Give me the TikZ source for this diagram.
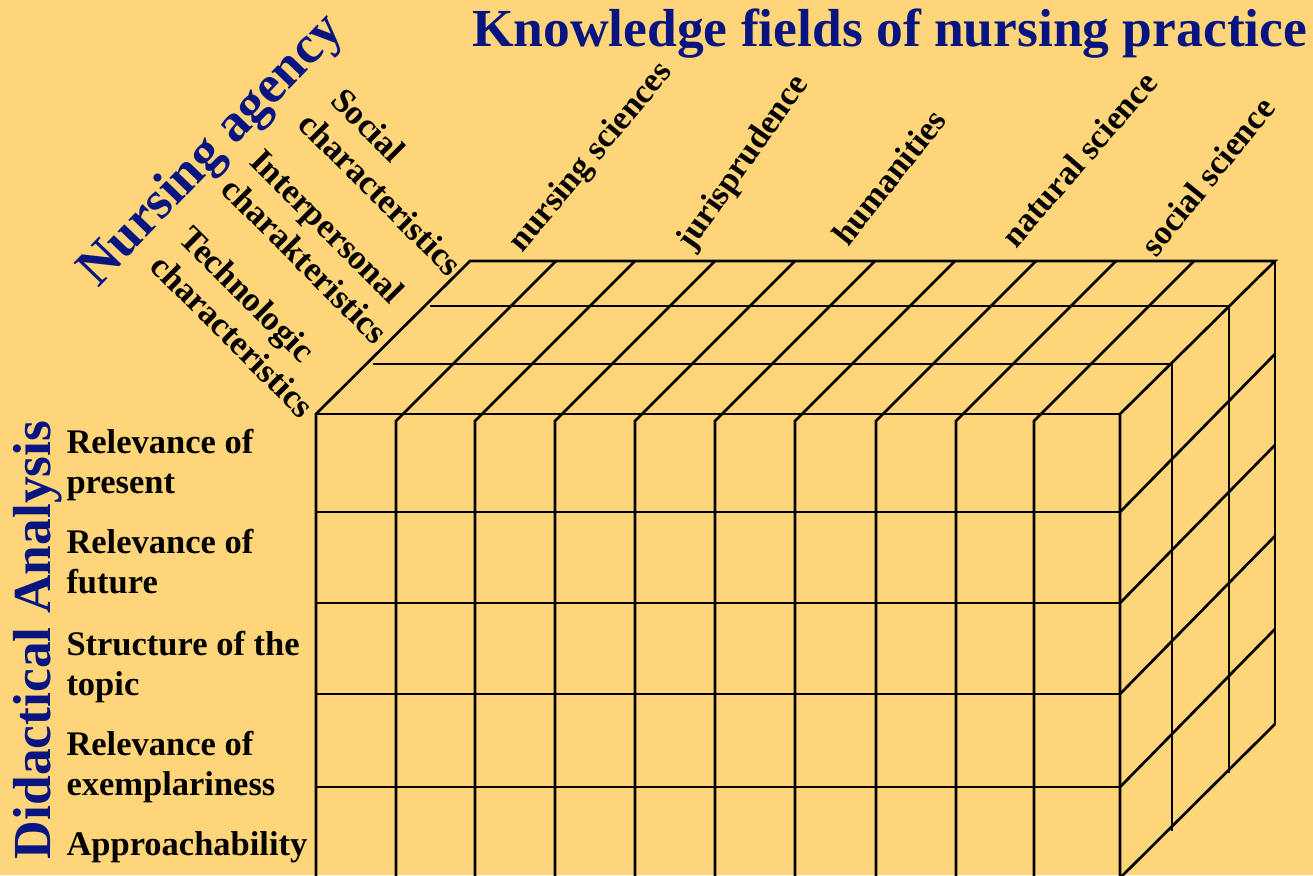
\documentclass[tikz,border=0pt]{standalone}
\usepackage{fontspec}
\setmainfont{Liberation Serif}
\definecolor{bg}{RGB}{255,213,122}
\definecolor{navy}{RGB}{8,20,128}
\newcommand\twoln[2]{\begin{tabular}[t]{@{}l@{}}#1\\#2\end{tabular}}
\begin{document}
\begin{tikzpicture}[x=1pt,y=-1pt,
  grid/.style={line width=2.7pt, draw=black},
  lab/.style={font=\fontsize{34.5}{40}\selectfont\bfseries, inner sep=0pt, outer sep=0pt, anchor=base west},
  fld/.style={font=\fontsize{34}{40}\selectfont\bfseries, inner sep=0pt, outer sep=0pt, anchor=base west},
  big/.style={font=\fontsize{53.5}{60}\selectfont\bfseries, text=navy, inner sep=0pt, outer sep=0pt, anchor=base west}]
\fill[bg] (0,0) rectangle (1313,875);
\useasboundingbox (0,0) rectangle (1313,875);
\begin{scope}
\clip (0,0) rectangle (1313,875);
% front face
\foreach \y in {512,603,694,787} \draw[grid] (316,\y) -- (1120,\y);
\draw[grid] (316,885) -- (316,414) -- (470,261) -- (1275,261) -- (1120,414) -- (1120,885);
\draw[grid] (316,414) -- (1120,414);
\foreach \x in {396,475,555,635,715,795,876,956,1034}
  \draw[grid] (\x+160,261) -- (\x,421) -- (\x,885);
% top face layers
\draw[grid] (430,306) -- (1229,306);
\draw[grid] (373,364) -- (1172,364);
% right face
\draw[grid] (1229,306) -- (1229,773);
\draw[grid] (1172,364) -- (1172,831);
\draw[grid] (1275,261) -- (1275,724);
\foreach \y in {512,603,694,787} \draw[grid] (1120,\y) -- (1275,\y-158);
\draw[grid] (1120,878) -- (1275,724);
\end{scope}
% titles
\node[big] (title) at (472,47) {Knowledge fields of nursing practice};
\node[big, rotate=90] (da) at (50,859) {Didactical Analysis};
\node[big, rotate=46] (na) at (98,288) {Nursing agency};
% row labels
\node[lab] (r1) at (66.5,453) {\twoln{Relevance of}{present}};
\node[lab] (r2) at (66.5,553) {\twoln{Relevance of}{future}};
\node[lab] (r3) at (66.5,655) {\twoln{Structure of the}{topic}};
\node[lab] (r4) at (66.5,755) {\twoln{Relevance of}{exemplariness}};
\node[lab] (r5) at (66.5,855) {Approachability};
% agency labels
\node[lab, rotate=-45] (soc) at (325,98) {\twoln{\hspace*{6pt}Social}{characteristics}};
\node[lab, rotate=-45] (inter) at (248,163) {\twoln{Interpersonal}{charakteristics}};
\node[lab, rotate=-45] (tech) at (177,240) {\twoln{Technologic}{characteristics}};
% knowledge fields
\node[fld, rotate=50] (f1) at (522,253) {nursing sciences};
\node[fld, rotate=55] (f2) at (692,251) {jurisprudence};
\node[fld, rotate=51.5] (f3) at (848,247) {humanities};
\node[fld, rotate=49] (f4) at (1016,249) {natural science};
\node[fld, rotate=51] (f5) at (1156,258) {social science};
\end{tikzpicture}
\end{document}
